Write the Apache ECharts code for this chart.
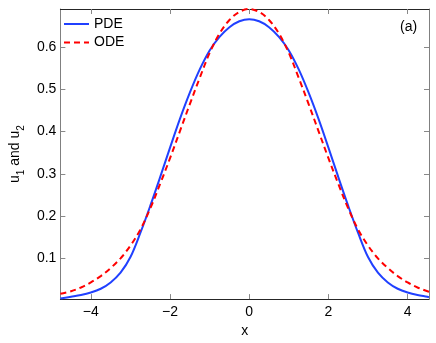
<!DOCTYPE html>
<html>
<head>
<meta charset="utf-8">
<script src="https://cdn.jsdelivr.net/npm/echarts@6/dist/echarts.min.js"></script>
<style>
  html, body { margin: 0; padding: 0; background: #fff; }
  #chart { width: 436px; height: 343px; }
</style>
</head>
<body>
<div id="chart"></div>
<script>
    // values
    var xValues = [-4.77, -4.5, -4.25, -4, -3.75, -3.5, -3.25, -3, -2.75, -2.5, -2.25, -2, -1.75, -1.5, -1.25, -1, -0.75, -0.5, -0.25, 0,
                   0.25, 0.5, 0.75, 1, 1.25, 1.5, 1.75, 2, 2.25, 2.5, 2.75, 3, 3.25, 3.5, 3.75, 4, 4.25, 4.5, 4.54];
    var pdeValues = [0.005, 0.009, 0.013, 0.019, 0.028, 0.043, 0.066, 0.103, 0.16, 0.224, 0.292, 0.362, 0.43, 0.492, 0.547, 0.592, 0.624, 0.647, 0.661, 0.666,
                     0.661, 0.647, 0.624, 0.592, 0.547, 0.492, 0.43, 0.362, 0.292, 0.224, 0.16, 0.103, 0.066, 0.043, 0.028, 0.019, 0.013, 0.009, 0.008];
    var odeValues = [0.016, 0.022, 0.031, 0.043, 0.058, 0.077, 0.1, 0.13, 0.168, 0.218, 0.276, 0.337, 0.401, 0.465, 0.527, 0.586, 0.632, 0.664, 0.683, 0.69,
                     0.683, 0.664, 0.632, 0.586, 0.527, 0.465, 0.401, 0.337, 0.276, 0.218, 0.168, 0.13, 0.1, 0.077, 0.058, 0.043, 0.031, 0.022, 0.021];
    var xTicks = [-4, -2, 0, 2, 4];
    var yTicks = [0.1, 0.2, 0.3, 0.4, 0.5, 0.6];
    var xRange = [-4.77, 4.54];
    var yRange = [0.0035, 0.69];

    function pairs(ys) {
        return xValues.map(function (x, i) { return [x, ys[i]]; });
    }

    var font = 'Liberation Sans';
    var chart = echarts.init(document.getElementById('chart'));

    function xAxis(pos, labels) {
        return {
            type: 'value',
            position: pos,
            min: xRange[0],
            max: xRange[1],
            axisLine: { show: true, onZero: false, lineStyle: { color: '#262626', width: 1 } },
            axisTick: { show: true, inside: true, length: 5, customValues: xTicks, lineStyle: { color: '#888' } },
            axisLabel: {
                show: labels,
                customValues: xTicks,
                margin: 6,
                color: '#000',
                fontSize: 14,
                fontFamily: font,
                formatter: function (v) { return v < 0 ? '\u2212' + Math.abs(v) : String(v); }
            },
            splitLine: { show: false },
            name: labels ? 'x' : '',
            nameLocation: 'middle',
            nameGap: 20,
            nameTextStyle: { color: '#000', fontSize: 14, fontFamily: font }
        };
    }

    function yAxis(pos, labels) {
        return {
            type: 'value',
            position: pos,
            min: yRange[0],
            max: yRange[1],
            axisLine: { show: true, onZero: false, lineStyle: { color: '#808080', width: 1 } },
            axisTick: { show: true, inside: true, length: 5, customValues: yTicks, lineStyle: { color: '#888' } },
            axisLabel: {
                show: labels,
                customValues: yTicks,
                margin: 4,
                color: '#000',
                fontSize: 14,
                fontFamily: font,
                formatter: function (v) { return v.toFixed(1); }
            },
            splitLine: { show: false },
            name: labels ? '{a|u}{s|1}{a| and u}{s|2}' : '',
            nameLocation: 'middle',
            nameGap: 32,
            nameTextStyle: {
                color: '#000',
                fontFamily: font,
                rich: {
                    a: { fontSize: 14, fontFamily: font, color: '#000', lineHeight: 20, verticalAlign: 'bottom', padding: [0, 0, 4, 0] },
                    s: { fontSize: 10, fontFamily: font, color: '#000', lineHeight: 20, verticalAlign: 'bottom' }
                }
            }
        };
    }

    var option = {
        animation: false,
        backgroundColor: '#fff',
        grid: { left: 53, right: 7, top: 9, bottom: 37 },
        legend: {
            orient: 'vertical',
            left: 63,
            top: 17,
            padding: 0,
            itemWidth: 25,
            itemHeight: 14,
            itemGap: 4.5,
            itemStyle: { opacity: 0 },
            textStyle: { fontSize: 14, fontFamily: font, color: '#000', lineHeight: 14 },
            data: ['PDE', 'ODE']
        },
        xAxis: [xAxis('bottom', true), xAxis('top', false)],
        yAxis: [yAxis('left', true), yAxis('right', false)],
        graphic: [{
            type: 'text',
            style: { text: '(a)', x: 400, y: 27, verticalAlign: 'middle', fontSize: 14, fontFamily: font, fill: '#000' }
        }],
        series: [
            {
                name: 'PDE',
                type: 'line',
                symbol: 'none',
                smooth: 0.35,
                lineStyle: { color: '#2040ff', width: 2 },
                itemStyle: { color: '#2040ff' },
                data: pairs(pdeValues)
            },
            {
                name: 'ODE',
                type: 'line',
                symbol: 'none',
                smooth: 0.35,
                lineStyle: { color: '#ff0000', width: 2, type: [6, 4] },
                itemStyle: { color: '#ff0000' },
                data: pairs(odeValues)
            }
        ]
    };

    chart.setOption(option);
</script>
</body>
</html>
